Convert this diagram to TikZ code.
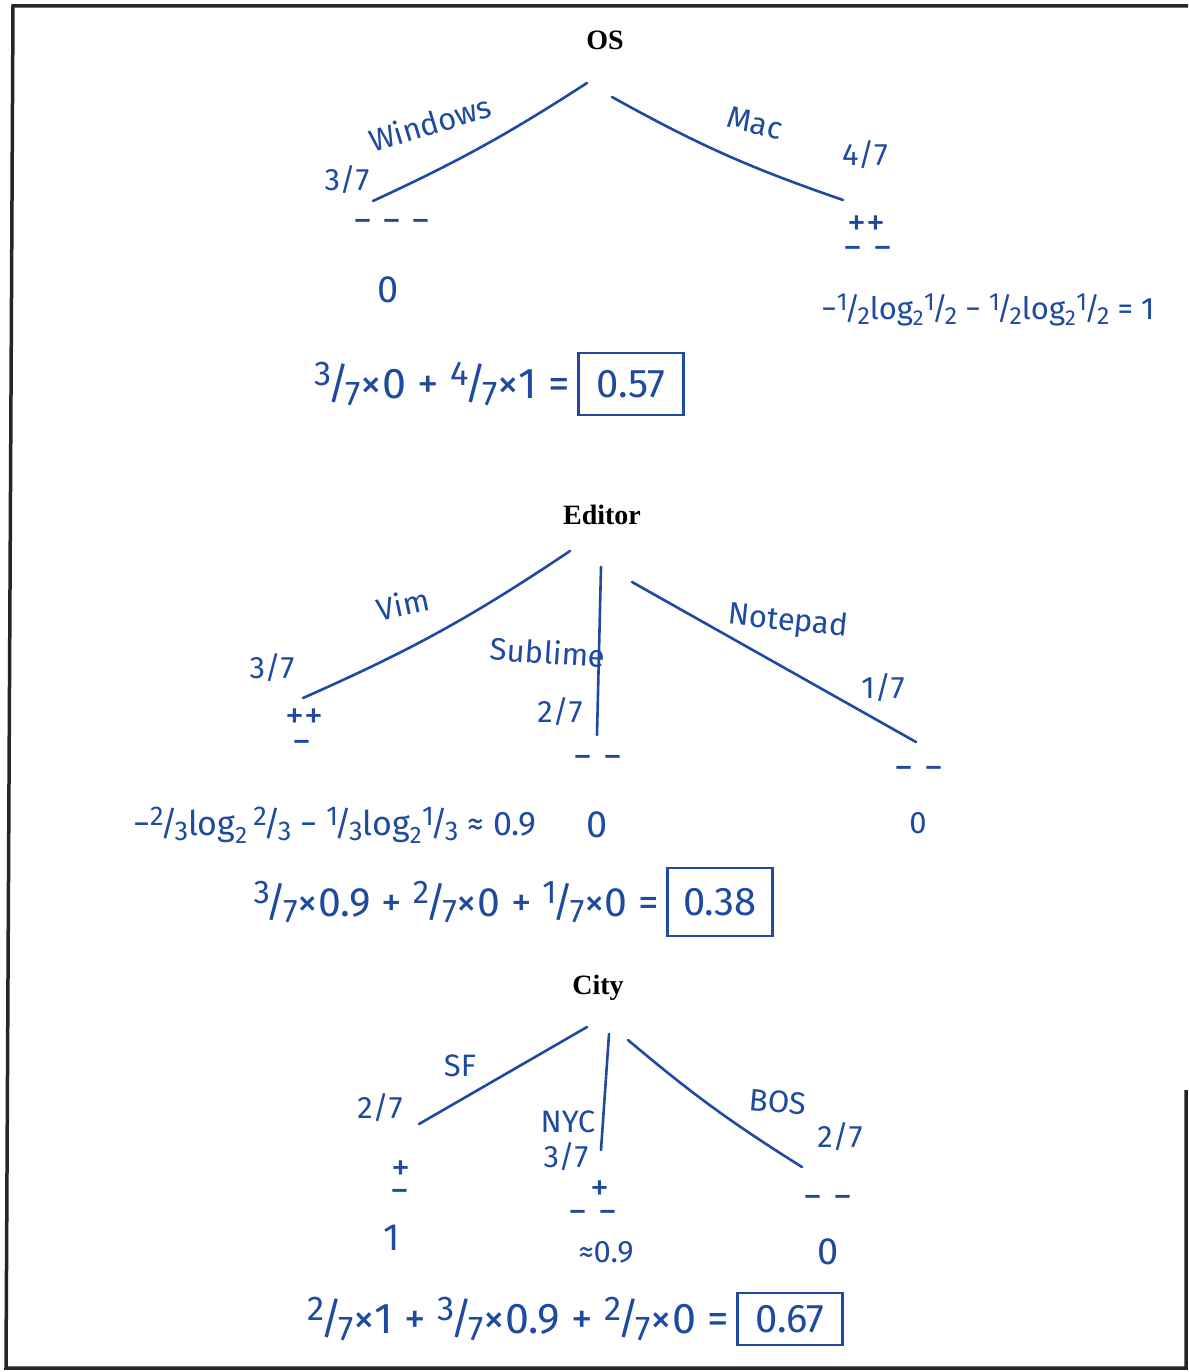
\documentclass[tikz,border=0pt]{standalone}
\usepackage{fontspec}
\usepackage{graphicx}
\setmainfont{Liberation Serif}
\newfontfamily\handfont{Fira Sans}
\usetikzlibrary{positioning}
\definecolor{inkblue}{HTML}{1E4AA0}
\newcommand{\hfr}[2]{\raisebox{0.3em}{\scalebox{0.8}{#1}}\kern-0.1em/\kern-0.1em\raisebox{-0.15em}{\scalebox{0.8}{#2}}}
\newcommand{\lgt}{log\textsubscript{2}}
\begin{document}
\begin{tikzpicture}[x=1pt,y=-1pt,
title/.style={font=\bfseries\fontsize{28}{30}\selectfont},
hand/.style={text=inkblue,font=\handfont\fontsize{31}{34}\selectfont,inner sep=1pt},
sign/.style={hand,font=\handfont\fontsize{38}{30}\selectfont,inner sep=0pt},
ent/.style={hand,font=\handfont\fontsize{34}{38}\selectfont},
eqn/.style={hand,font=\handfont\fontsize{43}{46}\selectfont},
ans/.style={draw=inkblue,line width=2.4pt,text=inkblue,font=\handfont\fontsize{40}{44}\selectfont,minimum width=105pt,minimum height=62pt,inner sep=2pt},
branch/.style={draw=inkblue,line width=2.6pt,line cap=round},
frame/.style={line width=3.5pt,black!85}]
\useasboundingbox (0,0) rectangle (1188,1372);
\fill[white] (0,0) rectangle (1188,1372);
\draw[frame] (1188,6)--(13,6)--(6,1368)--(1186,1368)--(1186,1090);
\node[title] (os) at (605,40) {OS};
\coordinate (osa) at (587,83); \coordinate (osb) at (612,97);
\coordinate (wa) at (373,201); \coordinate (ma) at (843,200);
\draw[branch] (osa) to[bend left=4] (wa); \draw[branch] (osb) to[bend right=5] (ma);
\node[hand,rotate=17] (wl) at (430,123) {Windows};
\node[hand,rotate=-14] (ml) at (755,123) {Mac};
\node[hand] (wf) at (347,180) {3/7};
\node[hand] (mf) at (865,155) {4/7};
\node[sign] (wc) at (392,226) {− − −};
\node[sign] (we) at (388,290) {0};
\node[sign] (mc) at (866,226) {++};
\node[sign] (md) at (868,253) {− −};
\node[hand] (me) at (988,310) {−\hfr{1}{2}\lgt\hfr{1}{2} − \hfr{1}{2}\lgt\hfr{1}{2} = 1};
\node[ans] (r1) at (631,384) {0.57};
\node[eqn,left=6pt of r1] (q1) {\hfr{3}{7}×0 + \hfr{4}{7}×1 =};
\node[title] (ed) at (602,515) {Editor};
\coordinate (eda) at (570,551); \coordinate (edb) at (601,567); \coordinate (edc) at (632,582);
\coordinate (va) at (303,698); \coordinate (sa) at (597,735); \coordinate (na) at (916,742);
\draw[branch] (eda) to[bend left=5] (va); \draw[branch] (edb)--(sa); \draw[branch] (edc)--(na);
\node[hand,rotate=12] (vl) at (403,604) {Vim};
\node[hand,rotate=-4] (sl) at (548,652) {Sublime};
\node[hand,rotate=-6] (nl) at (788,622) {Notepad};
\node[hand] (vf) at (272,668) {3/7};
\node[hand] (sf) at (560,712) {2/7};
\node[hand] (nf) at (883,688) {1/7};
\node[sign] (vc) at (304,719) {++}; \node[sign] (vd) at (302,747) {−};
\node[sign] (sc) at (598,762) {− −};
\node[sign] (nc) at (919,773) {− −};
\node[ent] (ve) at (335,825) {−\hfr{2}{3}\lgt\,\hfr{2}{3} − \hfr{1}{3}\lgt\hfr{1}{3} ≈ 0.9};
\node[sign] (se) at (597,825) {0};
\node[hand] (ne) at (918,823) {0};
\node[ans,minimum height=68pt] (r2) at (720,902) {0.38};
\node[eqn,font=\handfont\fontsize{41}{44}\selectfont,left=6pt of r2] (q2) {\hfr{3}{7}×0.9 + \hfr{2}{7}×0 + \hfr{1}{7}×0 =};
\node[title] (ct) at (598,988) {City};
\coordinate (cta) at (587,1027); \coordinate (ctb) at (609,1034); \coordinate (ctc) at (628,1040);
\coordinate (sfa) at (419,1124); \coordinate (nya) at (601,1150); \coordinate (bsa) at (802,1167);
\draw[branch] (cta)--(sfa); \draw[branch] (ctb)--(nya); \draw[branch] (ctc) to[bend right=4] (bsa);
\node[hand] (sfl) at (460,1066) {SF};
\node[hand] (nyl) at (568,1122) {NYC};
\node[hand,rotate=-5] (bsl) at (778,1102) {BOS};
\node[hand] (sff) at (380,1108) {2/7};
\node[hand] (nyf) at (566,1157) {3/7};
\node[hand] (bsf) at (840,1137) {2/7};
\node[sign] (sfc) at (401,1171) {+}; \node[sign] (sfd) at (400,1196) {−};
\node[sign] (nyc) at (600,1191) {+}; \node[sign] (nyd) at (593,1217) {− −};
\node[sign] (bsc) at (828,1202) {− −};
\node[sign] (sfe) at (392,1238) {1};
\node[hand] (nye) at (606,1252) {≈0.9};
\node[sign] (bse) at (828,1252) {0};
\node[ans,minimum height=52pt] (r3) at (790,1319) {0.67};
\node[eqn,left=6pt of r3] (q3) {\hfr{2}{7}×1 + \hfr{3}{7}×0.9 + \hfr{2}{7}×0 =};
\end{tikzpicture}
\end{document}
